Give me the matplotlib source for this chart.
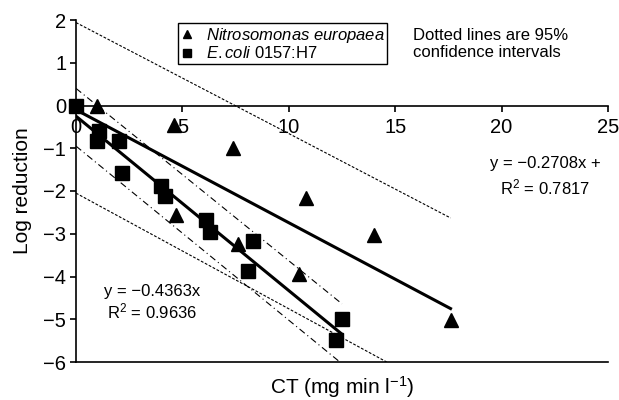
import numpy as np
import matplotlib
matplotlib.use('Agg')
import matplotlib.pyplot as plt

plt.rcParams['font.family'] = ['Liberation Sans', 'DejaVu Sans']
plt.rcParams['mathtext.fontset'] = 'custom'
plt.rcParams['mathtext.rm'] = 'Liberation Sans'
plt.rcParams['mathtext.it'] = 'Liberation Sans:italic'

# Nitrosomonas europaea (triangles)
nitro_x = [1.0, 4.6, 4.7, 7.4, 7.6, 10.5, 10.8, 14.0, 17.6]
nitro_y = [0.0, -0.45, -2.55, -1.0, -3.25, -3.95, -2.17, -3.02, -5.02]

# E. coli 0157:H7 (squares)
ecoli_x = [0.0, 1.1, 1.0, 2.0, 2.15, 4.0, 4.2, 6.1, 6.3, 8.1, 8.3, 12.2, 12.5]
ecoli_y = [0.0, -0.6, -0.83, -0.83, -1.57, -1.89, -2.12, -2.67, -2.96, -3.88, -3.16, -5.48, -4.99]

# regression lines and 95% confidence lines (end points)
nitro_fit_x = [0.0, 17.6]
nitro_fit_y = [-0.1, -4.75]
nitro_ci_up_x = [0.0, 17.6]
nitro_ci_up_y = [1.94, -2.63]
nitro_ci_lo_x = [0.0, 14.6]
nitro_ci_lo_y = [-2.05, -6.0]

ecoli_fit_x = [0.0, 12.5]
ecoli_fit_y = [-0.25, -5.35]
ecoli_ci_up_x = [0.0, 12.5]
ecoli_ci_up_y = [0.4, -4.64]
ecoli_ci_lo_x = [0.0, 12.4]
ecoli_ci_lo_y = [-0.95, -6.0]

fig = plt.figure(figsize=(6.19, 4.0), dpi=100)
ax = fig.add_axes([76 / 619, 1 - 362 / 400, 532 / 619, 342 / 400])

ax.plot(nitro_ci_up_x, nitro_ci_up_y, color='k', lw=0.8, ls=(0, (2.5, 1.5)))
ax.plot(nitro_ci_lo_x, nitro_ci_lo_y, color='k', lw=0.8, ls=(0, (2.5, 1.5)))
ax.plot(ecoli_ci_up_x, ecoli_ci_up_y, color='k', lw=0.8, ls=(0, (6, 3, 1, 3)))
ax.plot(ecoli_ci_lo_x, ecoli_ci_lo_y, color='k', lw=0.8, ls=(0, (6, 3, 1, 3)))
ax.plot(nitro_fit_x, nitro_fit_y, color='k', lw=2.2)
ax.plot(ecoli_fit_x, ecoli_fit_y, color='k', lw=2.2)

ax.plot(nitro_x, nitro_y, 'k^', ms=10, ls='none', label=r'$\mathit{Nitrosomonas\ europaea}$', clip_on=False)
ax.plot(ecoli_x, ecoli_y, 'ks', ms=10.5, ls='none', label=r'$\mathit{E.coli}$ 0157:H7', clip_on=False)

ax.set_xlim(0, 25)
ax.set_ylim(-6, 2)
ax.set_xticks([0, 5, 10, 15, 20, 25])
ax.set_yticks(np.arange(-6, 3, 1))

# x axis crosses at y = 0, plot area closed at the bottom
ax.spines['bottom'].set_position(('data', 0))
ax.spines['top'].set_visible(False)
ax.spines['right'].set_visible(False)
for s in ['bottom', 'left']:
    ax.spines[s].set_linewidth(1.2)
ax.axhline(-6, color='k', lw=1.2, clip_on=False)

ax.tick_params(axis='x', direction='out', length=4, width=1.2, pad=5, labelsize=14.5)
ax.tick_params(axis='y', direction='out', length=4, width=1.2, pad=3, labelsize=14.5)

ax.set_ylabel('Log reduction', fontsize=15, labelpad=8)
ax.set_xlabel('CT (mg min l$^{-1}$)', fontsize=15)
ax.xaxis.set_label_coords(0.5, -0.035)

leg = ax.legend(loc='upper left', bbox_to_anchor=(0.192, 0.991), borderaxespad=0,
                fontsize=12, markerscale=0.6, handlelength=0.8, handletextpad=0.7,
                borderpad=0.15, labelspacing=0.05, fancybox=False, framealpha=1)
leg.get_frame().set_edgecolor('k')
leg.get_frame().set_linewidth(1.0)

ax.text(15.84, 1.44, 'Dotted lines are 95%\nconfidence intervals', fontsize=12,
        ha='left', va='center', linespacing=1.2)
ax.text(22.04, -1.35, 'y = \u22120.2708x +', fontsize=12, ha='center', va='center')
ax.text(22.04, -1.91, 'R$^2$ = 0.7817', fontsize=12, ha='center', va='center')
ax.text(3.57, -4.34, 'y = \u22120.4363x', fontsize=12, ha='center', va='center')
ax.text(3.57, -4.81, 'R$^2$ = 0.9636', fontsize=12, ha='center', va='center')

plt.savefig('out.png', dpi=100)
